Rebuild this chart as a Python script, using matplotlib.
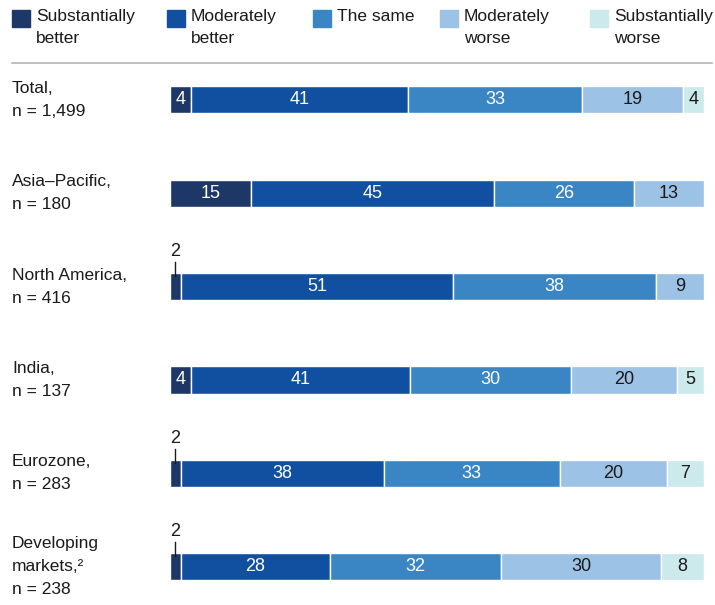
import numpy as np
import matplotlib.pyplot as plt
from matplotlib import transforms
from matplotlib.patches import Rectangle

plt.rcParams['font.family'] = ['Liberation Sans', 'DejaVu Sans']

# ── data ──────────────────────────────────────────────────────────────────
categories = ["Substantially\nbetter", "Moderately\nbetter", "The same",
              "Moderately\nworse", "Substantially\nworse"]
row_labels = ["Total,\nn = 1,499", "Asia–Pacific,\nn = 180",
              "North America,\nn = 416", "India,\nn = 137",
              "Eurozone,\nn = 283", "Developing\nmarkets,²\nn = 238"]
values = np.array([
    [4, 41, 33, 19, 4],
    [15, 45, 26, 13, 0],
    [2, 51, 38, 9, 0],
    [4, 41, 30, 20, 5],
    [2, 38, 33, 20, 7],
    [2, 28, 32, 30, 8],
])

colors = ["#1d3866", "#1150a1", "#3a86c5", "#9cc2e5", "#cce9ec"]
text_colors = ["white", "white", "white", "#1a1a1a", "#1a1a1a"]
fs = 12.5

# ── figure ────────────────────────────────────────────────────────────────
W, H = 715, 605
fig = plt.figure(figsize=(W / 100, H / 100), dpi=100)
ax = fig.add_axes([170 / W, 0, (704 - 170) / W, 535 / H])
ax.set_xlim(0, 100)
ax.set_ylim(5.41, -0.32)
ax.axis("off")

bar_h = 0.29
shares = values / values.sum(axis=1, keepdims=True) * 100
for i in range(len(values)):
    left = 0
    for j in range(values.shape[1]):
        w = shares[i, j]
        if values[i, j] == 0:
            continue
        ax.barh(i, w, left=left, height=bar_h, color=colors[j],
                edgecolor="white", linewidth=1)
        if values[i, j] >= 4:
            ax.text(left + w / 2, i, str(values[i, j]), ha="center",
                    va="center", fontsize=fs + 0.5, color=text_colors[j])
        else:
            # small segment: label above with a tick
            xc = left + w / 2
            ax.plot([xc, xc], [i - bar_h / 2 - 0.12, i - bar_h / 2 + 0.03],
                    color="#1a1a1a", linewidth=1, zorder=5)
            ax.text(xc, i - bar_h / 2 - 0.14, str(values[i, j]), ha="center",
                    va="bottom", fontsize=fs + 0.5, color="#1a1a1a")
        left += w

# row labels
trans = transforms.blended_transform_factory(fig.transFigure, ax.transData)
for i, lab in enumerate(row_labels):
    ax.text(12 / W, i, lab, transform=trans, ha="left", va="center",
            fontsize=fs, color="#1a1a1a", linespacing=1.65)

# legend
leg_x = [12, 167, 313, 440, 590]
for x, lab, c in zip(leg_x, categories, colors):
    fig.patches.append(Rectangle((x / W, 1 - 27 / H), 18 / W, 17 / H,
                                 transform=fig.transFigure, color=c))
    fig.text((x + 24) / W, 1 - 9 / H, lab, ha="left", va="top",
             fontsize=fs, color="#1a1a1a", linespacing=1.6)

fig.add_artist(plt.Line2D([12 / W, 712 / W], [1 - 63 / H, 1 - 63 / H],
                          transform=fig.transFigure, color="#b5b5b5",
                          linewidth=1.2))

fig.savefig("out.png", dpi=100)
